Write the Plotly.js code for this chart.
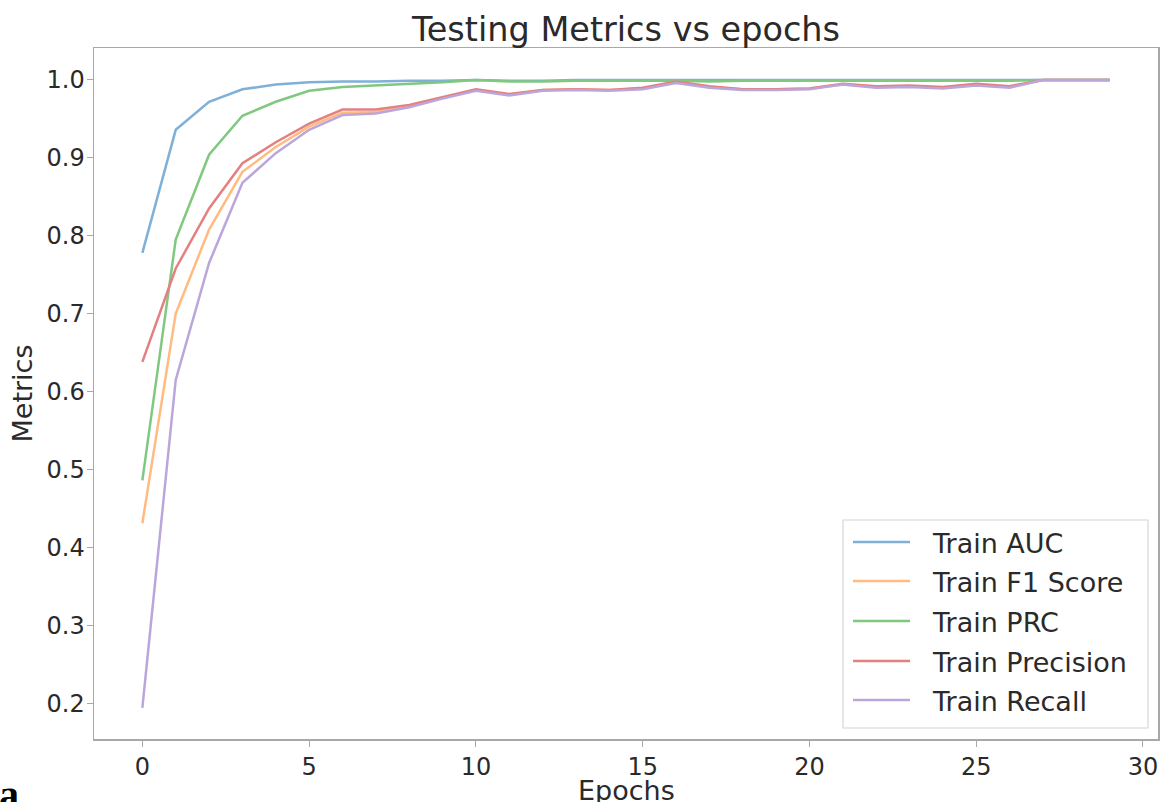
<!DOCTYPE html>
<html>
<head>
<meta charset="utf-8">
<script src="https://cdn.plot.ly/plotly-3.0.1.min.js"></script>
<style>html,body{margin:0;padding:0;background:#fff;}#chart{width:1164px;height:802px;}</style>
</head>
<body>
<div id="chart"></div>
<script>
const epochs = Array.from({length: 30}, (_, i) => i);
const trainAUC = [0.778, 0.936, 0.972, 0.988, 0.994, 0.997, 0.998, 0.998, 0.999, 0.999, 1.0, 0.999, 0.999, 1.0, 1.0, 1.0, 1.0, 1.0, 1.0, 1.0, 1.0, 1.0, 1.0, 1.0, 1.0, 1.0, 1.0, 1.0, 1.0, 1.0];
const trainF1 = [0.431, 0.700, 0.808, 0.882, 0.914, 0.940, 0.958, 0.959, 0.966, 0.977, 0.987, 0.981, 0.987, 0.988, 0.987, 0.989, 0.997, 0.991, 0.988, 0.988, 0.989, 0.994, 0.991, 0.992, 0.990, 0.994, 0.991, 1.0, 1.0, 1.0];
const trainPRC = [0.486, 0.795, 0.904, 0.954, 0.972, 0.986, 0.991, 0.993, 0.995, 0.997, 1.0, 0.998, 0.998, 0.999, 0.999, 0.999, 0.999, 0.998, 0.999, 0.999, 0.999, 0.999, 0.999, 0.999, 0.999, 0.999, 0.999, 1.0, 1.0, 1.0];
const trainPrecision = [0.638, 0.758, 0.835, 0.893, 0.920, 0.944, 0.962, 0.962, 0.968, 0.978, 0.988, 0.982, 0.987, 0.988, 0.987, 0.990, 0.998, 0.992, 0.988, 0.988, 0.989, 0.995, 0.992, 0.993, 0.991, 0.995, 0.992, 1.0, 1.0, 1.0];
const trainRecall = [0.194, 0.615, 0.765, 0.868, 0.906, 0.936, 0.955, 0.957, 0.965, 0.976, 0.986, 0.980, 0.986, 0.987, 0.986, 0.988, 0.996, 0.990, 0.987, 0.987, 0.988, 0.994, 0.990, 0.991, 0.989, 0.993, 0.990, 1.0, 1.0, 1.0];
const xTicks = [0, 5, 10, 15, 20, 25, 30];
const yTicks = [0.2, 0.3, 0.4, 0.5, 0.6, 0.7, 0.8, 0.9, 1.0];

const seriesNames = ["Train AUC", "Train F1 Score", "Train PRC", "Train Precision", "Train Recall"];
const seriesData = [trainAUC, trainF1, trainPRC, trainPrecision, trainRecall];
const colors = ["#7fb0d8", "#ffbb80", "#80c880", "#e48080", "#bba6dc"];

const traces = seriesData.map((d, i) => ({
  x: epochs, y: d, type: "scatter", mode: "lines", name: seriesNames[i],
  line: {color: colors[i], width: 2.5}
}));

// plot area in pixels: left 94, right 1158, top 48, bottom 739
const PL = 94, PR = 1158, PT = 48, PB = 739;
const px = v => (v - PL) / (PR - PL);
const py = v => (PB - v) / (PB - PT);

const font = "DejaVu Sans, sans-serif";
const txt = "#2a2a2a";

// custom legend (matplotlib-style)
const legendShapes = [{
  type: "rect", xref: "paper", yref: "paper",
  x0: px(843), x1: px(1148), y0: py(728), y1: py(520),
  line: {color: "#d6d6d6", width: 1.2}, fillcolor: "rgba(255,255,255,0.9)", layer: "above"
}];
const legendAnn = [];
const rowY = [542, 581, 621, 661, 700];
seriesNames.forEach((n, i) => {
  legendShapes.push({
    type: "line", xref: "paper", yref: "paper",
    x0: px(853), x1: px(910), y0: py(rowY[i]), y1: py(rowY[i]),
    line: {color: colors[i], width: 2.5}, layer: "above"
  });
  legendAnn.push({
    text: n, xref: "paper", yref: "paper", x: px(930), y: py(rowY[i] + 1),
    xanchor: "left", yanchor: "middle", showarrow: false,
    font: {family: font, size: 27, color: txt}
  });
});

const layout = {
  width: 1164, height: 802,
  margin: {l: PL, r: 1164 - PR, t: PT, b: 802 - PB},
  paper_bgcolor: "#fff", plot_bgcolor: "#fff",
  font: {family: font, color: txt, size: 24},
  showlegend: false,
  title: {text: "Testing Metrics vs epochs", x: 0.5, xref: "paper", y: 0.963, yref: "container", yanchor: "middle", font: {family: font, size: 33.5, color: txt}},
  xaxis: {
    range: [-1.45, 30.45], tickvals: xTicks,
    showgrid: false, zeroline: false, showline: true, mirror: true, linecolor: "#a8a8a8", linewidth: 1.5,
    ticks: "outside", ticklen: 6, tickcolor: "#a8a8a8",
    tickfont: {size: 24, family: font, color: txt}
  },
  yaxis: {
    range: [0.154, 1.041], tickvals: yTicks, tickformat: ".1f",
    showgrid: false, zeroline: false, showline: true, mirror: true, linecolor: "#a8a8a8", linewidth: 1.5,
    ticks: "outside", ticklen: 6, tickcolor: "#a8a8a8", ticklabelstandoff: -3,
    tickfont: {size: 24, family: font, color: txt},
    title: {text: "Metrics", standoff: 6, font: {size: 27, family: font, color: txt}}
  },
  shapes: legendShapes,
  annotations: legendAnn.concat([
    {
      text: "Epochs", xref: "paper", yref: "paper", x: 0.5, y: py(773), xanchor: "center", yanchor: "top",
      showarrow: false, font: {family: font, size: 27, color: txt}
    },
    {
      text: "<b>a</b>", xref: "paper", yref: "paper", x: px(-3), y: py(770), xanchor: "left", yanchor: "top",
      showarrow: false, font: {family: "Liberation Serif, serif", size: 40, color: "#000"}
    }
  ])
};

Plotly.newPlot("chart", traces, layout, {displayModeBar: false, staticPlot: true});
</script>
</body>
</html>
